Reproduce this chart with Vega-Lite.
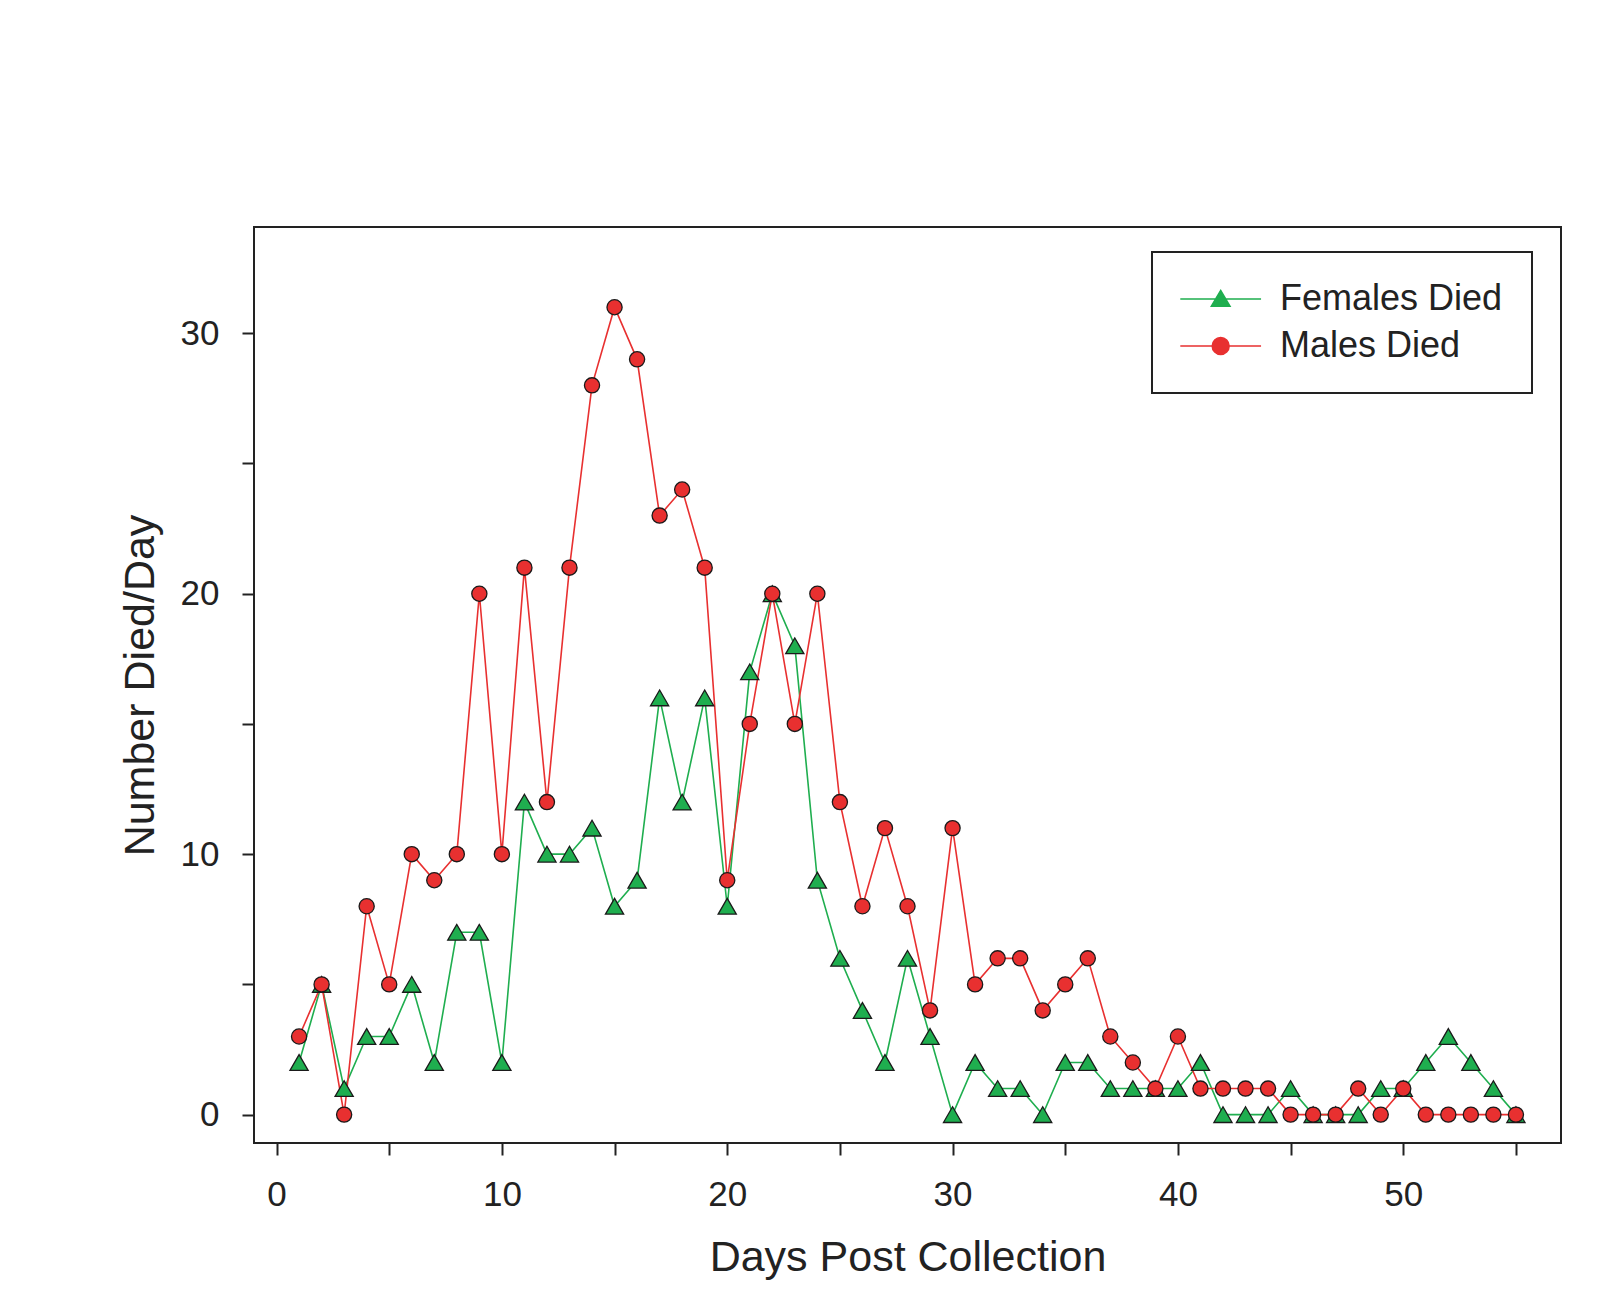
{
  "$schema": "https://vega.github.io/schema/vega-lite/v6.json",
  "width": 1307,
  "height": 916,
  "autosize": {"type": "none"},
  "padding": {"left": 254, "top": 227, "right": 38, "bottom": 148},
  "background": "white",
  "config": {
    "font": "Liberation Sans",
    "view": {"stroke": "#222222", "strokeWidth": 2},
    "axis": {
      "grid": false,
      "domain": false,
      "tickSize": 12,
      "tickWidth": 2,
      "tickColor": "#222222",
      "labelFont": "Liberation Sans",
      "labelFontSize": 35,
      "labelColor": "#222222",
      "titleFont": "Liberation Sans",
      "titleFontSize": 43,
      "titleFontWeight": "normal",
      "titleColor": "#222222"
    }
  },
  "data": {
    "values": [
      {"day": 1, "count": 2, "series": "Females Died"},
      {"day": 2, "count": 5, "series": "Females Died"},
      {"day": 3, "count": 1, "series": "Females Died"},
      {"day": 4, "count": 3, "series": "Females Died"},
      {"day": 5, "count": 3, "series": "Females Died"},
      {"day": 6, "count": 5, "series": "Females Died"},
      {"day": 7, "count": 2, "series": "Females Died"},
      {"day": 8, "count": 7, "series": "Females Died"},
      {"day": 9, "count": 7, "series": "Females Died"},
      {"day": 10, "count": 2, "series": "Females Died"},
      {"day": 11, "count": 12, "series": "Females Died"},
      {"day": 12, "count": 10, "series": "Females Died"},
      {"day": 13, "count": 10, "series": "Females Died"},
      {"day": 14, "count": 11, "series": "Females Died"},
      {"day": 15, "count": 8, "series": "Females Died"},
      {"day": 16, "count": 9, "series": "Females Died"},
      {"day": 17, "count": 16, "series": "Females Died"},
      {"day": 18, "count": 12, "series": "Females Died"},
      {"day": 19, "count": 16, "series": "Females Died"},
      {"day": 20, "count": 8, "series": "Females Died"},
      {"day": 21, "count": 17, "series": "Females Died"},
      {"day": 22, "count": 20, "series": "Females Died"},
      {"day": 23, "count": 18, "series": "Females Died"},
      {"day": 24, "count": 9, "series": "Females Died"},
      {"day": 25, "count": 6, "series": "Females Died"},
      {"day": 26, "count": 4, "series": "Females Died"},
      {"day": 27, "count": 2, "series": "Females Died"},
      {"day": 28, "count": 6, "series": "Females Died"},
      {"day": 29, "count": 3, "series": "Females Died"},
      {"day": 30, "count": 0, "series": "Females Died"},
      {"day": 31, "count": 2, "series": "Females Died"},
      {"day": 32, "count": 1, "series": "Females Died"},
      {"day": 33, "count": 1, "series": "Females Died"},
      {"day": 34, "count": 0, "series": "Females Died"},
      {"day": 35, "count": 2, "series": "Females Died"},
      {"day": 36, "count": 2, "series": "Females Died"},
      {"day": 37, "count": 1, "series": "Females Died"},
      {"day": 38, "count": 1, "series": "Females Died"},
      {"day": 39, "count": 1, "series": "Females Died"},
      {"day": 40, "count": 1, "series": "Females Died"},
      {"day": 41, "count": 2, "series": "Females Died"},
      {"day": 42, "count": 0, "series": "Females Died"},
      {"day": 43, "count": 0, "series": "Females Died"},
      {"day": 44, "count": 0, "series": "Females Died"},
      {"day": 45, "count": 1, "series": "Females Died"},
      {"day": 46, "count": 0, "series": "Females Died"},
      {"day": 47, "count": 0, "series": "Females Died"},
      {"day": 48, "count": 0, "series": "Females Died"},
      {"day": 49, "count": 1, "series": "Females Died"},
      {"day": 50, "count": 1, "series": "Females Died"},
      {"day": 51, "count": 2, "series": "Females Died"},
      {"day": 52, "count": 3, "series": "Females Died"},
      {"day": 53, "count": 2, "series": "Females Died"},
      {"day": 54, "count": 1, "series": "Females Died"},
      {"day": 55, "count": 0, "series": "Females Died"},
      {"day": 1, "count": 3, "series": "Males Died"},
      {"day": 2, "count": 5, "series": "Males Died"},
      {"day": 3, "count": 0, "series": "Males Died"},
      {"day": 4, "count": 8, "series": "Males Died"},
      {"day": 5, "count": 5, "series": "Males Died"},
      {"day": 6, "count": 10, "series": "Males Died"},
      {"day": 7, "count": 9, "series": "Males Died"},
      {"day": 8, "count": 10, "series": "Males Died"},
      {"day": 9, "count": 20, "series": "Males Died"},
      {"day": 10, "count": 10, "series": "Males Died"},
      {"day": 11, "count": 21, "series": "Males Died"},
      {"day": 12, "count": 12, "series": "Males Died"},
      {"day": 13, "count": 21, "series": "Males Died"},
      {"day": 14, "count": 28, "series": "Males Died"},
      {"day": 15, "count": 31, "series": "Males Died"},
      {"day": 16, "count": 29, "series": "Males Died"},
      {"day": 17, "count": 23, "series": "Males Died"},
      {"day": 18, "count": 24, "series": "Males Died"},
      {"day": 19, "count": 21, "series": "Males Died"},
      {"day": 20, "count": 9, "series": "Males Died"},
      {"day": 21, "count": 15, "series": "Males Died"},
      {"day": 22, "count": 20, "series": "Males Died"},
      {"day": 23, "count": 15, "series": "Males Died"},
      {"day": 24, "count": 20, "series": "Males Died"},
      {"day": 25, "count": 12, "series": "Males Died"},
      {"day": 26, "count": 8, "series": "Males Died"},
      {"day": 27, "count": 11, "series": "Males Died"},
      {"day": 28, "count": 8, "series": "Males Died"},
      {"day": 29, "count": 4, "series": "Males Died"},
      {"day": 30, "count": 11, "series": "Males Died"},
      {"day": 31, "count": 5, "series": "Males Died"},
      {"day": 32, "count": 6, "series": "Males Died"},
      {"day": 33, "count": 6, "series": "Males Died"},
      {"day": 34, "count": 4, "series": "Males Died"},
      {"day": 35, "count": 5, "series": "Males Died"},
      {"day": 36, "count": 6, "series": "Males Died"},
      {"day": 37, "count": 3, "series": "Males Died"},
      {"day": 38, "count": 2, "series": "Males Died"},
      {"day": 39, "count": 1, "series": "Males Died"},
      {"day": 40, "count": 3, "series": "Males Died"},
      {"day": 41, "count": 1, "series": "Males Died"},
      {"day": 42, "count": 1, "series": "Males Died"},
      {"day": 43, "count": 1, "series": "Males Died"},
      {"day": 44, "count": 1, "series": "Males Died"},
      {"day": 45, "count": 0, "series": "Males Died"},
      {"day": 46, "count": 0, "series": "Males Died"},
      {"day": 47, "count": 0, "series": "Males Died"},
      {"day": 48, "count": 1, "series": "Males Died"},
      {"day": 49, "count": 0, "series": "Males Died"},
      {"day": 50, "count": 1, "series": "Males Died"},
      {"day": 51, "count": 0, "series": "Males Died"},
      {"day": 52, "count": 0, "series": "Males Died"},
      {"day": 53, "count": 0, "series": "Males Died"},
      {"day": 54, "count": 0, "series": "Males Died"},
      {"day": 55, "count": 0, "series": "Males Died"}
    ]
  },
  "encoding": {
    "x": {
      "field": "day",
      "type": "quantitative",
      "scale": {"domain": [-1, 57], "nice": false, "zero": false},
      "axis": {
        "title": "Days Post Collection",
        "values": [0, 5, 10, 15, 20, 25, 30, 35, 40, 45, 50, 55],
        "labelExpr": "datum.value % 10 === 0 ? datum.label : ''",
        "labelPadding": 22,
        "titlePadding": 24,
        "labelFlush": false,
        "labelOverlap": false
      }
    },
    "y": {
      "field": "count",
      "type": "quantitative",
      "scale": {"domain": [-1.09, 34.08], "nice": false, "zero": false},
      "axis": {
        "title": "Number Died/Day",
        "values": [0, 5, 10, 15, 20, 25, 30],
        "labelExpr": "datum.value % 10 === 0 ? datum.label : ''",
        "labelPadding": 23,
        "titlePadding": 18,
        "labelFlush": false,
        "labelOverlap": false
      }
    },
    "color": {
      "field": "series",
      "type": "nominal",
      "scale": {"domain": ["Females Died", "Males Died"], "range": ["#1fae4f", "#e83030"]},
      "legend": {
        "title": null,
        "orient": "none",
        "legendX": 898,
        "legendY": 25,
        "padding": 29,
        "strokeColor": "#222222",
        "fillColor": "white",
        "labelFont": "Liberation Sans",
        "labelFontSize": 36,
        "labelColor": "#222222",
        "labelLimit": 500,
        "labelOffset": 63,
        "rowPadding": 11,
        "symbolSize": 289,
        "symbolStrokeWidth": 1.5,
        "encode": {
          "legend": {"update": {"strokeWidth": {"value": 2}}},
          "symbols": {
            "update": {
              "shape": {"signal": "datum.value === 'Females Died' ? 'M-2.2,0H7.3M2.55,-1L3.65,0.85H1.45Z' : 'M-2.2,0H7.3M3.55,0A1,1,0,1,1,1.55,0A1,1,0,1,1,3.55,0Z'"},
              "fill": {"signal": "datum.value === 'Females Died' ? '#1fae4f' : '#e83030'"},
              "stroke": {"signal": "datum.value === 'Females Died' ? '#1fae4f' : '#e83030'"},
              "strokeWidth": {"value": 1.5},
              "opacity": {"value": 1},
              "fillOpacity": {"value": 1},
              "size": {"value": 289}
            }
          }
        }
      }
    }
  },
  "layer": [
    {
      "mark": {"type": "line", "strokeWidth": 1.6}
    },
    {
      "transform": [{"filter": "datum.series === 'Females Died'"}],
      "mark": {"type": "point", "shape": "triangle-up", "size": 330, "filled": true, "opacity": 1, "stroke": "#1a1a1a", "strokeWidth": 1.3}
    },
    {
      "transform": [{"filter": "datum.series === 'Males Died'"}],
      "mark": {"type": "point", "shape": "circle", "size": 230, "filled": true, "opacity": 1, "stroke": "#1a1a1a", "strokeWidth": 1.3}
    }
  ]
}
